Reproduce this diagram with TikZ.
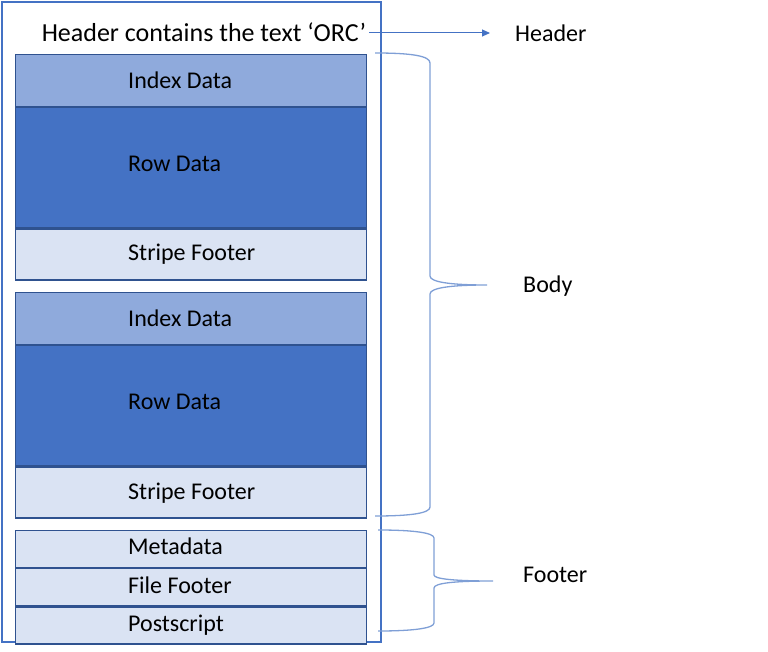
\documentclass[tikz,border=0pt]{standalone}
\usepackage{fontspec}
\setmainfont{Carlito}
\usepackage{xcolor}
\usetikzlibrary{positioning, arrows.meta}

\definecolor{idxblue}{HTML}{8FAADC}
\definecolor{rowblue}{HTML}{4472C4}
\definecolor{ftrblue}{HTML}{DAE3F3}
\definecolor{edgeblue}{HTML}{2F528F}
\definecolor{bracecol}{HTML}{7F9FD6}

\tikzset{
  seg/.style={draw=edgeblue, line width=1.2pt, minimum width=351pt, inner sep=0pt, anchor=north west},
  idxbox/.style={seg, fill=idxblue, minimum height=52pt},
  rowbox/.style={seg, fill=rowblue, minimum height=120pt},
  ftrbox/.style={seg, fill=ftrblue, minimum height=51pt},
  metabox/.style={seg, fill=ftrblue, minimum height=37pt},
  txt/.style={font=\fontsize{24}{29}\selectfont, inner sep=0pt, text height=15pt, text depth=0pt},
  lbl/.style={txt, anchor=west},
  brace/.style={draw=bracecol, line width=1.3pt},
}

\begin{document}
\begin{tikzpicture}[x=1pt, y=-1pt]
        \useasboundingbox (0,0) rectangle (768,652);

        % Outer file box
        \node[draw=rowblue, line width=1.6pt, minimum width=379pt, minimum height=640pt, inner sep=0pt, anchor=north west] (file) at (1,1) {};

        % Header line
        \node[txt, font=\fontsize{26}{31}\selectfont, text height=16.4pt] (hdrtxt) at (204,33) {Header contains the text ‘ORC’};

        % First stripe
        \node[idxbox] (idx1) at (15,54) {};
        \node[rowbox, below=0pt of idx1] (row1) {};
        \node[ftrbox, below=0pt of row1] (ftr1) {};

        % Second stripe
        \node[idxbox] (idx2) at (15,292) {};
        \node[rowbox, below=0pt of idx2] (row2) {};
        \node[ftrbox, below=0pt of row2] (ftr2) {};

        % File footer part
        \node[metabox] (meta) at (15,530) {};
        \node[metabox, below=0pt of meta] (ffoot) {};
        \node[metabox, below=0pt of ffoot] (post) {};

        % Texts in the boxes
        \node[lbl] (tidx1) at ([xshift=113pt]idx1.west) {Index Data};
        \node[lbl] (trow1) at ([xshift=113pt,yshift=4pt]row1.west) {Row Data};
        \node[lbl] (tftr1) at ([xshift=113pt,yshift=1pt]ftr1.west) {Stripe Footer};
        \node[lbl] (tidx2) at ([xshift=113pt]idx2.west) {Index Data};
        \node[lbl] (trow2) at ([xshift=113pt,yshift=4pt]row2.west) {Row Data};
        \node[lbl] (tftr2) at ([xshift=113pt,yshift=1pt]ftr2.west) {Stripe Footer};
        \node[lbl] (tmeta) at ([xshift=113pt,yshift=2pt]meta.west) {Metadata};
        \node[lbl] (tffoot) at ([xshift=113pt,yshift=1.5pt]ffoot.west) {File Footer};
        \node[lbl] (tpost) at ([xshift=113pt,yshift=2pt]post.west) {Postscript};

        % Labels on the right
        \node[lbl] (hdrlbl) at (515,34) {Header};
        \node[lbl] (bodylbl) at (523,285) {Body};
        \node[lbl] (footlbl) at (523,575) {Footer};

        % Arrow to the header label
        \draw[rowblue, line width=1pt, -{Triangle[length=8pt, width=7pt]}] ([xshift=3pt]hdrtxt.east) -- ([xshift=-25pt]hdrlbl.west |- hdrtxt.east);

        % Braces
        \coordinate (B1) at (375,53);   % Body top
        \coordinate (B2) at (487,285);  % Body tip
        \coordinate (B3) at (375,516);  % Body bottom
        \coordinate (F1) at (378,530);  % Footer top
        \coordinate (F2) at (493,581);  % Footer tip
        \coordinate (F3) at (378,631);  % Footer bottom

        \draw[brace] (B1) .. controls (412,53) and (430,56) .. (430,63) -- (430,276)
            .. controls (430,282) and (450,285) .. (B2)
            .. controls (450,285) and (430,288) .. (430,294) -- (430,507)
            .. controls (430,513) and (412,516) .. (B3);
        \draw[brace] (F1) .. controls (415,530) and (434,533) .. (434,538) -- (434,575)
            .. controls (434,579) and (455,581) .. (F2)
            .. controls (455,581) and (434,583) .. (434,588) -- (434,623)
            .. controls (434,628) and (415,631) .. (F3);
\end{tikzpicture}
\end{document}
